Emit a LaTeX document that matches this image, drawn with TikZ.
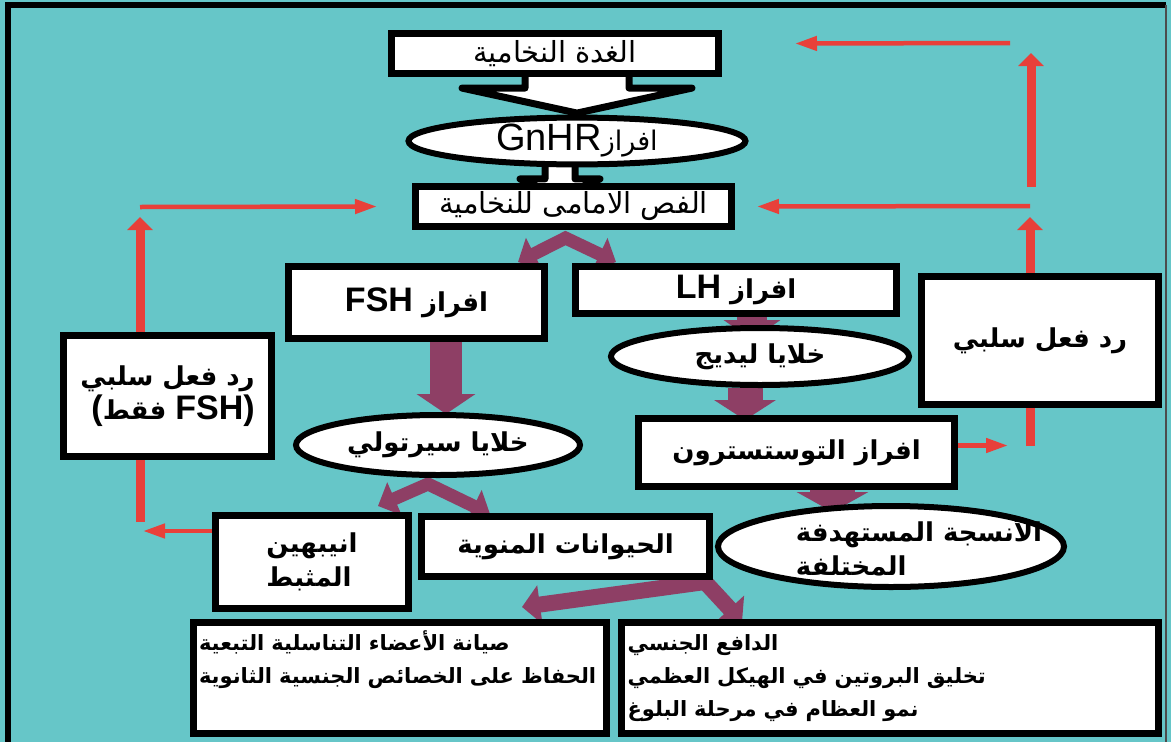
\documentclass[tikz,border=0pt]{standalone}
\usepackage{fontspec}
\usepackage{tikz}
\usetikzlibrary{shapes.geometric,arrows.meta,calc}
\newfontfamily\arabicfont[Script=Arabic]{DejaVu Sans}
\newfontfamily\latinfont{Liberation Sans}
\TeXXeTstate=1
\newcommand{\arb}[1]{\beginR #1\endR}
\newcommand{\lat}[1]{\beginL{\latinfont\fontsize{34}{36}\selectfont #1}\endL}
\definecolor{sea}{RGB}{102,198,200}
\definecolor{hormone}{RGB}{142,63,101}
\definecolor{feedred}{RGB}{232,64,58}
\pgfdeclarelayer{bg}
\pgfsetlayers{bg,main}

\begin{document}
\begin{tikzpicture}[x=1pt,y=-1pt]
        \tikzset{BoxStyle/.style={draw, line width=7pt, fill=white, inner sep=2pt},
        OvalStyle/.style={draw, ellipse, line width=6pt, fill=white, inner sep=0pt},
        RegText/.style={font=\arabicfont\fontsize{29}{32}\selectfont},
        BoldText/.style={font=\arabicfont\bfseries\fontsize{26}{34}\selectfont},
        SmallBold/.style={font=\arabicfont\bfseries\fontsize{21}{33}\selectfont},
        HollowArrow/.style={draw, line width=7pt, fill=white, line join=round},
        HormoneArrow/.style={draw=hormone, line width=#1, -{Triangle[width=#1+26pt,length=20pt]}},
        HormoneFork/.style={draw=hormone, line width=#1, line join=miter,
          {Triangle[width=#1+22pt,length=18pt]}-{Triangle[width=#1+22pt,length=18pt]}},
        FeedThin/.style={draw=feedred, line width=4.5pt, -{Triangle[width=14pt,length=22pt]}},
        FeedThick/.style={draw=feedred, line width=9pt, -{Triangle[width=25pt,length=13pt]}},
        FeedLine/.style={draw=feedred, line width=9pt}}
        \useasboundingbox (0,0) rectangle (1171,742);
        \begin{pgfonlayer}{bg}
        \fill[sea] (0,0) rectangle (1171,742);
        \end{pgfonlayer}
        \node[BoxStyle, RegText, minimum width=327pt, minimum height=40pt] (pit) at (555,53.5) {\arb{الغدة النخامية}};
        \node[OvalStyle, font=\arabicfont\fontsize{27}{30}\selectfont, minimum width=337pt, minimum height=42pt] (gnrh) at (577,141)
          {\arb{افراز\beginL{\latinfont\fontsize{38}{40}\selectfont GnHR}\endL}};
        \node[BoxStyle, RegText, minimum width=316pt, minimum height=40pt] (ant) at (573.5,206.5) {\arb{الفص الامامى للنخامية}};
        \node[BoxStyle, BoldText, minimum width=256pt, minimum height=72pt] (fsh) at (416.5,302.5) {\arb{افراز \lat{FSH}}};
        \node[BoxStyle, BoldText, minimum width=321pt, minimum height=47pt] (lh) at (736,290) {\arb{افراز \lat{LH}}};
        \node[OvalStyle, BoldText, minimum width=284pt, minimum height=60pt] (sertoli) at (438,445) {\arb{خلايا سيرتولي}};
        \node[OvalStyle, BoldText, minimum width=298pt, minimum height=57pt] (leydig) at (760,356.5) {\arb{خلايا ليديج}};
        \node[BoxStyle, BoldText, minimum width=316pt, minimum height=68pt] (testo) at (796.5,452.5) {\arb{افراز التوستسترون}};
        \node[OvalStyle, minimum width=346pt, minimum height=81pt,
          label={[BoldText, align=left, xshift=28pt]center:{\beginR الأنسجة المستهدفة\endR\\\beginR المختلفة\endR}}] (target) at (891,546.5) {};
        \node[BoxStyle, BoldText, minimum width=237pt, minimum height=128pt] (feedR) at (1040,340.5) {\arb{رد فعل سلبي}};
        \node[BoxStyle, BoldText, align=right, minimum width=208pt, minimum height=121pt] (feedL) at (167.5,396)
          {\arb{رد فعل سلبي}\\{\latinfont\fontsize{34}{36}\selectfont(}\arb{فقط} \lat{FSH)}};
        \node[BoxStyle, BoldText, align=left, minimum width=193pt, minimum height=93pt] (inhibin) at (312,562)
          {\arb{انيبهين}\\\arb{المثبط}};
        \node[BoxStyle, BoldText, minimum width=288pt, minimum height=60pt] (sperm) at (565.5,546.5) {\arb{الحيوانات المنوية}};
        \node[BoxStyle, SmallBold, align=left, text width=402pt, text depth=75pt, minimum width=413pt, minimum height=111pt] (organs) at (400,678)
          {\arb{صيانة الأعضاء التناسلية التبعية}\\\arb{الحفاظ على الخصائص الجنسية الثانوية}};
        \node[BoxStyle, SmallBold, align=left, text width=525pt, minimum width=537pt, minimum height=111pt] (effects) at (890,678)
          {\arb{الدافع الجنسي}\\\arb{تخليق البروتين في الهيكل العظمي}\\\arb{نمو العظام في مرحلة البلوغ}};
        \coordinate (fshFork) at (518,262);
        \coordinate (lhFork) at (616,262);
        \coordinate (inhTip) at (378,506);
        \coordinate (spermTip) at (490,514);
        \coordinate (organsTip) at (522,607);
        \coordinate (effectsTip) at (742,622);
        \coordinate (rA) at (1008,445.5);
        \coordinate (rB) at (1030,446);
        \coordinate (rC) at (1030,217);
        \coordinate (rD) at (1030,206);
        \coordinate (rE) at (1031,187);
        \coordinate (rF) at (1031,53);
        \coordinate (rG) at (1010,43);
        \coordinate (lA) at (143,531);
        \coordinate (lB) at (140,522);
        \coordinate (lC) at (140,217);
        \coordinate (lD) at (140,207);
        \begin{pgfonlayer}{bg}
        \begin{scope}[shift={(gnrh.north)}]
          \draw[HollowArrow] (-52,-46) -- (-52,-26.5) -- (-115,-26.5) -- (0,-1.5) -- (115,-26.5) -- (52,-26.5) -- (52,-46) -- cycle;
        \end{scope}
        \begin{scope}[shift={(gnrh.south)}]
          \draw[HollowArrow] (-32,-5) -- (-32,11.5) -- (-57,11.5) -- (-17,29.5) -- (23,11.5) -- (-2,11.5) -- (-2,-5) -- cycle;
        \end{scope}
        \draw[HormoneFork=13pt] (fshFork) -- ($(ant.south)+(-8,8)$) -- (lhFork);
        \draw[HormoneArrow=32pt] ($(fsh.south -| sertoli.north)+(8,0)$) -- ($(sertoli.north)+(8,2)$);
        \draw[HormoneArrow=30pt] ($(lh.south)+(16,0)$) -- ($(lh.south)+(16,23)$);
        \draw[HormoneArrow=35pt] ($(leydig.south)+(-15,0)$) -- ($(leydig.south)+(-15,32)$);
        \draw[HormoneArrow=45pt] ($(testo.south)+(36,0)$) -- ($(testo.south)+(36,22)$);
        \draw[HormoneFork=13pt] (inhTip) -- ($(sertoli.south)+(-10,6)$) -- (spermTip);
        \draw[HormoneFork=16pt] (organsTip) -- ($(sperm.south east)+(-8,2)$) -- (effectsTip);
        \end{pgfonlayer}
        \draw[FeedThin] ($(testo.east)+(0,-7)$) -- (rA);
        \draw[FeedLine] (rB) -- (rB |- feedR.south);
        \draw[FeedThick] (feedR.north -| rB) -- (rC);
        \draw[FeedThin] (rD) -- ($(ant.east)+(22,0)$);
        \draw[FeedThick] (rE) -- (rF);
        \draw[FeedThin] (rG) -- ($(pit.east)+(73,-10)$);
        \draw[FeedThin] ($(inhibin.west)+(0,-31)$) -- (lA);
        \draw[FeedLine] (lB) -- (lB |- feedL.south);
        \draw[FeedThick] (feedL.north -| lB) -- (lC);
        \draw[FeedThin] (lD) -- ($(ant.west)+(-35,0)$);
        \draw[line width=6pt] (8,745) -- (8,5) -- (1166,5);
        \draw[line width=2pt, black!70] (1166,5) -- (1166,745);
\end{tikzpicture}
\end{document}
